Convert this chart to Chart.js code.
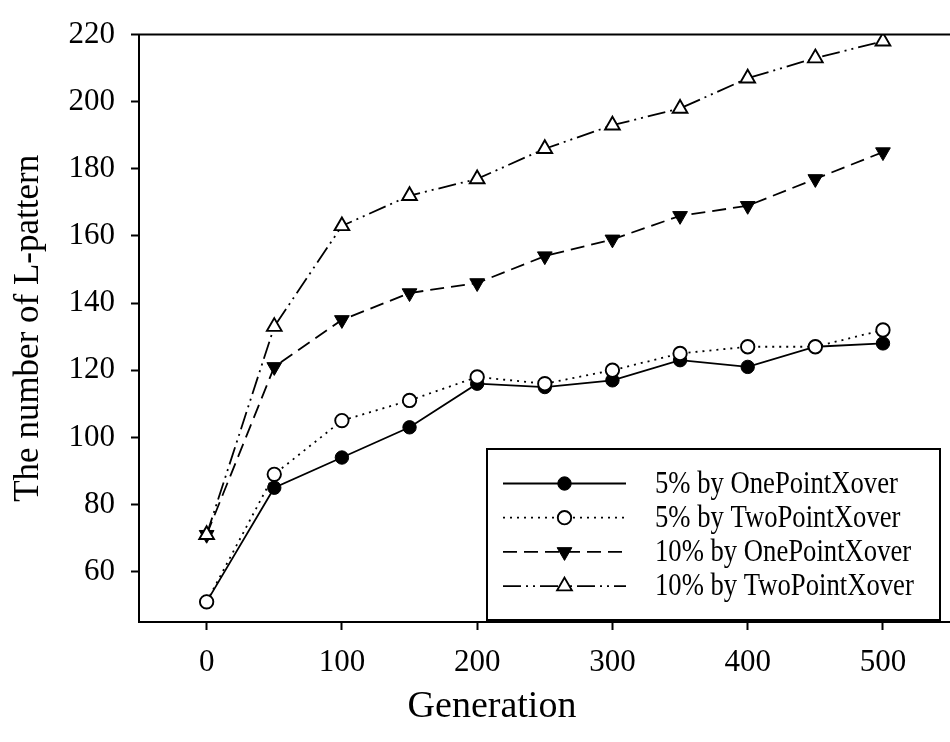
<!DOCTYPE html>
<html>
<head>
<meta charset="utf-8">
<script src="https://cdn.jsdelivr.net/npm/chart.js@4.4.1/dist/chart.umd.min.js"></script>
<style>
  html, body { margin: 0; padding: 0; background: #fff; overflow: hidden; }
  #wrap { width: 961px; height: 742px; }
</style>
</head>
<body>
<div id="wrap"><canvas id="c" width="961" height="742"></canvas></div>
<script>
// Generations sampled along the run
const generations = [0, 50, 100, 150, 200, 250, 300, 350, 400, 450, 500];

// Number of L-patterns found per generation
const onePoint5  = [51, 85, 94, 103, 116, 115, 117, 123, 121, 127, 128];
const twoPoint5  = [51, 89, 105, 111, 118, 116, 120, 125, 127, 127, 132];
const onePoint10 = [71, 121, 135, 143, 146, 154, 159, 166, 169, 177, 185];
const twoPoint10 = [71, 133, 163, 172, 177, 186, 193, 198, 207, 213, 218];

const seriesNames = [
  '5% by OnePointXover',
  '5% by TwoPointXover',
  '10% by OnePointXover',
  '10% by TwoPointXover'
];

const xTicks = [0, 100, 200, 300, 400, 500];
const yTicks = [60, 80, 100, 120, 140, 160, 180, 200, 220];

const xTitle = 'Generation';
const yTitle = 'The number of L-pattern';

const FONT = "'Liberation Serif', 'Times New Roman', serif";

function toPoints(values) {
  return generations.map((g, i) => ({ x: g, y: values[i] }));
}

const datasets = [
  {
    label: seriesNames[0], data: toPoints(onePoint5), order: 4,
    borderColor: '#000', borderWidth: 1.8, borderDash: [],
    pointStyle: 'circle', pointRadius: 6.7, pointBackgroundColor: '#000',
    pointBorderColor: '#000', pointBorderWidth: 1, pointRotation: 0
  },
  {
    label: seriesNames[1], data: toPoints(twoPoint5), order: 3,
    borderColor: '#000', borderWidth: 1.8, borderDash: [2, 5],
    pointStyle: 'circle', pointRadius: 6.7, pointBackgroundColor: '#fff',
    pointBorderColor: '#000', pointBorderWidth: 1.9, pointRotation: 0
  },
  {
    label: seriesNames[2], data: toPoints(onePoint10), order: 2,
    borderColor: '#000', borderWidth: 1.8, borderDash: [14, 7],
    pointStyle: 'triangle', pointRadius: 8.5, pointBackgroundColor: '#000',
    pointBorderColor: '#000', pointBorderWidth: 1, pointRotation: 180
  },
  {
    label: seriesNames[3], data: toPoints(twoPoint10), order: 1,
    borderColor: '#000', borderWidth: 1.8, borderDash: [18, 5, 2, 5, 2, 5],
    pointStyle: 'triangle', pointRadius: 8.5, pointBackgroundColor: '#fff',
    pointBorderColor: '#000', pointBorderWidth: 1.9, pointRotation: 0
  }
];

// Draws a marker with the same geometry Chart.js uses for circles/triangles
function drawMarker(ctx, ds, x, y) {
  ctx.save();
  ctx.setLineDash([]);
  ctx.fillStyle = ds.pointBackgroundColor;
  ctx.strokeStyle = ds.pointBorderColor;
  ctx.lineWidth = ds.pointBorderWidth;
  ctx.beginPath();
  const r = ds.pointRadius;
  if (ds.pointStyle === 'circle') {
    ctx.arc(x, y, r, 0, Math.PI * 2);
  } else {
    let rad = (ds.pointRotation || 0) * Math.PI / 180;
    ctx.moveTo(x + Math.sin(rad) * r, y - Math.cos(rad) * r);
    rad += 2 * Math.PI / 3;
    ctx.lineTo(x + Math.sin(rad) * r, y - Math.cos(rad) * r);
    rad += 2 * Math.PI / 3;
    ctx.lineTo(x + Math.sin(rad) * r, y - Math.cos(rad) * r);
  }
  ctx.closePath();
  ctx.fill();
  ctx.stroke();
  ctx.restore();
}

// Top frame line, x-axis title and the boxed legend in the lower right
const frameAndLegend = {
  id: 'frameAndLegend',
  afterDraw(chart) {
    const ctx = chart.ctx;
    const a = chart.chartArea;
    ctx.save();
    ctx.strokeStyle = '#000';
    ctx.lineWidth = 2;
    ctx.beginPath();
    ctx.moveTo(a.left - 1, a.top);
    ctx.lineTo(a.right, a.top);
    ctx.stroke();

    // x-axis title
    ctx.fillStyle = '#000';
    ctx.font = '38px ' + FONT;
    ctx.textAlign = 'center';
    ctx.textBaseline = 'middle';
    ctx.fillText(xTitle, 492, 707);

    // legend box
    const box = { left: 487, top: 449, right: 940, bottom: 620 };
    ctx.fillStyle = '#fff';
    ctx.fillRect(box.left, box.top, box.right - box.left, box.bottom - box.top);
    ctx.lineWidth = 2;
    ctx.strokeRect(box.left, box.top, box.right - box.left, box.bottom - box.top);

    const rowY0 = 483.5, rowStep = 34.2;
    const lineX0 = 503, lineX1 = 626, markX = 564.5, textX = 655;
    chart.data.datasets.forEach((ds, i) => {
      const y = rowY0 + i * rowStep;
      ctx.save();
      ctx.strokeStyle = ds.borderColor;
      ctx.lineWidth = ds.borderWidth;
      ctx.setLineDash(ds.borderDash || []);
      ctx.beginPath();
      ctx.moveTo(lineX0, y);
      ctx.lineTo(lineX1, y);
      ctx.stroke();
      ctx.restore();
      drawMarker(ctx, ds, markX, y);

      ctx.save();
      ctx.fillStyle = '#000';
      ctx.font = '31px ' + FONT;
      ctx.textBaseline = 'middle';
      ctx.textAlign = 'left';
      ctx.translate(textX, y + 1);
      ctx.scale(0.86, 1);
      ctx.fillText(ds.label, 0, 0);
      ctx.restore();
    });
    ctx.restore();
  }
};

new Chart(document.getElementById('c'), {
  type: 'line',
  data: { datasets },
  options: {
    responsive: false,
    animation: false,
    devicePixelRatio: 1,
    layout: { padding: { top: 30, left: 0, right: 0, bottom: 0 } },
    plugins: { legend: { display: false }, tooltip: { enabled: false } },
    elements: { line: { tension: 0 } },
    scales: {
      x: {
        type: 'linear',
        min: -50, max: 550,
        afterBuildTicks: s => { s.ticks = xTicks.map(v => ({ value: v })); },
        afterFit: s => { s.height = 120; },
        border: { display: true, color: '#000', width: 2 },
        grid: { drawOnChartArea: false, drawTicks: true, tickLength: 8, tickWidth: 2, tickColor: '#000' },
        ticks: { color: '#000', font: { family: FONT, size: 31 }, padding: 14, maxRotation: 0 },
        title: { display: false, text: xTitle }
      },
      y: {
        type: 'linear',
        min: 45, max: 220,
        afterBuildTicks: s => { s.ticks = yTicks.map(v => ({ value: v })); },
        afterFit: s => { s.width = 139; },
        border: { display: true, color: '#000', width: 2 },
        grid: { drawOnChartArea: false, drawTicks: true, tickLength: 8, tickWidth: 2, tickColor: '#000' },
        ticks: { color: '#000', font: { family: FONT, size: 31 }, padding: 16 },
        title: {
          display: true, text: yTitle, color: '#000',
          font: { family: FONT, size: 35, lineHeight: 1.2 },
          padding: { top: 8, bottom: 0 }
        }
      }
    }
  },
  plugins: [frameAndLegend]
});
</script>
</body>
</html>
